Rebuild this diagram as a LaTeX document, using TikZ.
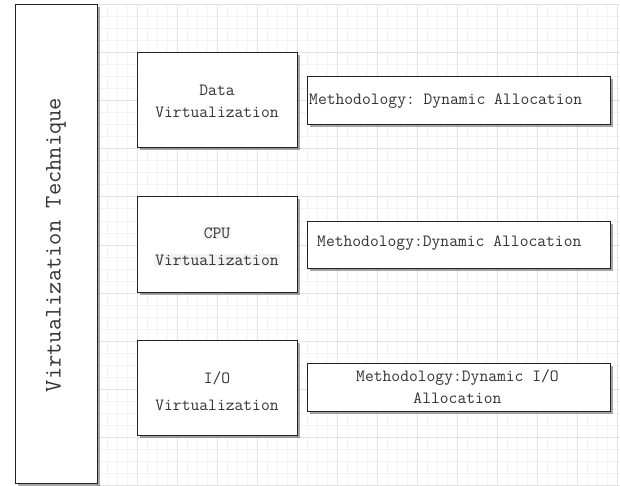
\documentclass[tikz,border=0pt]{standalone}
\usepackage{fontspec}
\usetikzlibrary{shadows}
\frenchspacing
\definecolor{edge}{HTML}{222222}
\definecolor{gminor}{HTML}{F3F3F3}
\definecolor{gmajor}{HTML}{E2E2E2}
\definecolor{hl}{HTML}{F3F3F3}
\definecolor{ink}{HTML}{333333}
\begin{document}
\begin{tikzpicture}[x=1pt,y=-1pt,
  box/.style={draw=edge, line width=1pt, fill=white, inner sep=0pt,
    drop shadow={shadow xshift=2.5pt, shadow yshift=-2.5pt, fill=black, opacity=0.35}},
  txt/.style={font=\ttfamily\fontsize{17.1}{22}\selectfont\frenchspacing, text=ink, inner sep=0pt, align=center},
  txtw/.style={font=\ttfamily\fontsize{17.1}{27}\selectfont\frenchspacing, text=ink, inner sep=0pt, align=center}]
\useasboundingbox (0,0) rectangle (620,486);
\fill[white] (0,0) rectangle (620,486);
% grid
\foreach \x in {97,107,...,617} \draw[gminor, line width=1pt] (\x,5) -- (\x,486);
\foreach \y in {5,17,...,485} \draw[gminor, line width=1pt] (97,\y) -- (620,\y);
\foreach \x in {97,137,...,617} \draw[gmajor, line width=1pt] (\x,5) -- (\x,486);
\foreach \y in {5,53,...,485} \draw[gmajor, line width=1pt] (97,\y) -- (620,\y);
% left tall box
\node[box, minimum width=82pt, minimum height=478pt] (vt) at (56,244) {};
\node[font=\ttfamily\fontsize{23.8}{26}\selectfont, text=ink, rotate=90, inner sep=0pt] (vtl) at (56,245) {Virtualization Technique};
% technique boxes
\node[box, minimum width=160pt, minimum height=95pt] (data) at (217,100.5) {};
\node[box, minimum width=160pt, minimum height=95pt] (cpu) at (217,244.5) {};
\node[box, minimum width=160pt, minimum height=95pt] (io) at (217,387.5) {};
\node[txt] (datat) at (217,101.5) {Data\\Virtualization};
\node[txtw] (cput) at (217,246.5) {\setlength{\fboxsep}{1pt}\colorbox{hl}{CPU}\\\setlength{\fboxsep}{1pt}\colorbox{hl}{Virtualization}};
\node[txtw] (iot) at (217,391) {I/O\\Virtualization};
% methodology boxes
\node[box, minimum width=303pt, minimum height=48pt] (m1) at (458.5,101) {};
\node[box, minimum width=303pt, minimum height=47pt] (m2) at (458.5,244.5) {};
\node[box, minimum width=303pt, minimum height=48pt] (m3) at (458.5,387) {};
\node[txt, anchor=west] (m1t) at (309,101) {Methodology: Dynamic Allocation};
\node[txt, anchor=west] (m2t) at (317,243.5) {Methodology:Dynamic Allocation};
\node[txt] (m3t) at (457.5,386.5) {Methodology:Dynamic I/O\\Allocation};
\end{tikzpicture}
\end{document}
